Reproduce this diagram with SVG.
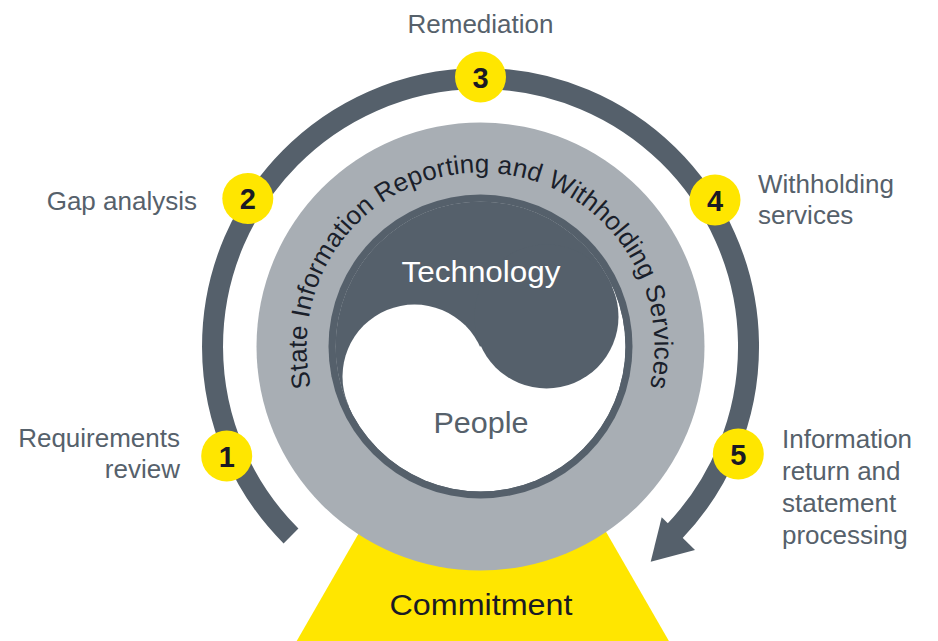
<svg xmlns="http://www.w3.org/2000/svg" width="938" height="641" viewBox="0 0 938 641">
  <defs>
    <style>
      .lbl { font-family: "Liberation Sans", Arial, sans-serif; font-size: 26px; fill: #56616b; }
      .num { font-family: "Liberation Sans", Arial, sans-serif; font-size: 29px; font-weight: bold; fill: #1a1a24; text-anchor: middle; }
      .badge { fill: #ffe600; }
      .dark { fill: #55606b; }
      .big { font-family: "Liberation Sans", Arial, sans-serif; font-size: 30px; text-anchor: middle; }
    </style>
    <clipPath id="innerClip">
      <circle cx="480.5" cy="346.5" r="145"/>
    </clipPath>
    <path id="ringPath" d="M 329.8 433.5 A 174 174 0 1 1 631.2 433.5"/>
  </defs>
  <rect width="938" height="641" fill="#ffffff"/>

  <g id="commitment">
    <polygon points="296.7,641 389.4,480 576.2,480 668.9,641" fill="#ffe600"/>
    <text class="big" x="481" y="615" fill="#1a1a24" textLength="183" lengthAdjust="spacingAndGlyphs">Commitment</text>
  </g>

  <g id="ring">
    <circle cx="480.5" cy="346.5" r="224" fill="#a8aeb4"/>
    <text font-family="'Liberation Sans', Arial, sans-serif" font-size="26" fill="#1a1f2b">
      <textPath href="#ringPath" startOffset="50%" text-anchor="middle" textLength="628" lengthAdjust="spacing">State Information Reporting and Withholding Services</textPath>
    </text>
  </g>

  <g id="core">
    <circle cx="480.5" cy="346.5" r="152" class="dark"/>
    <g clip-path="url(#innerClip)">
      <circle cx="480.5" cy="346.5" r="145" fill="#ffffff"/>
      <polygon points="25.5,553.5 935.5,139.5 935.5,0 25.5,0" class="dark"/>
      <circle cx="546.5" cy="316.5" r="72" class="dark"/>
      <circle cx="414.5" cy="376.5" r="72" fill="#ffffff"/>
    </g>
    <text class="big" x="481" y="282" fill="#ffffff" textLength="159" lengthAdjust="spacingAndGlyphs">Technology</text>
    <text class="big" x="481" y="433" fill="#56616b" textLength="95" lengthAdjust="spacingAndGlyphs">People</text>
  </g>

  <g id="connectors">
    <path d="M 291 536 A 268 268 0 1 1 673.3 532.7" fill="none" stroke="#55606b" stroke-width="21" stroke-linecap="butt"/>
    <polygon points="661.7,517.3 695,550 650.7,561.7" class="dark"/>
  </g>

  <g id="step1">
    <circle cx="226.7" cy="456" r="25.5" class="badge"/>
    <text class="num" x="226.7" y="466.5">1</text>
    <text class="lbl" x="180" y="447" text-anchor="end">Requirements</text>
    <text class="lbl" x="180" y="478" text-anchor="end">review</text>
  </g>

  <g id="step2">
    <circle cx="247.8" cy="198.5" r="25.5" class="badge"/>
    <text class="num" x="247.8" y="209">2</text>
    <text class="lbl" x="197" y="210" text-anchor="end">Gap analysis</text>
  </g>

  <g id="step3">
    <circle cx="480.5" cy="77" r="25.5" class="badge"/>
    <text class="num" x="480.5" y="87.5">3</text>
    <text class="lbl" x="480.5" y="33" text-anchor="middle">Remediation</text>
  </g>

  <g id="step4">
    <circle cx="715" cy="200" r="25.5" class="badge"/>
    <text class="num" x="715" y="210.5">4</text>
    <text class="lbl" x="758" y="193">Withholding</text>
    <text class="lbl" x="758" y="224">services</text>
  </g>

  <g id="step5">
    <circle cx="738.3" cy="454" r="25.5" class="badge"/>
    <text class="num" x="738.3" y="464.5">5</text>
    <text class="lbl" x="782" y="448">Information</text>
    <text class="lbl" x="782" y="480">return and</text>
    <text class="lbl" x="782" y="512">statement</text>
    <text class="lbl" x="782" y="544">processing</text>
  </g>
</svg>
